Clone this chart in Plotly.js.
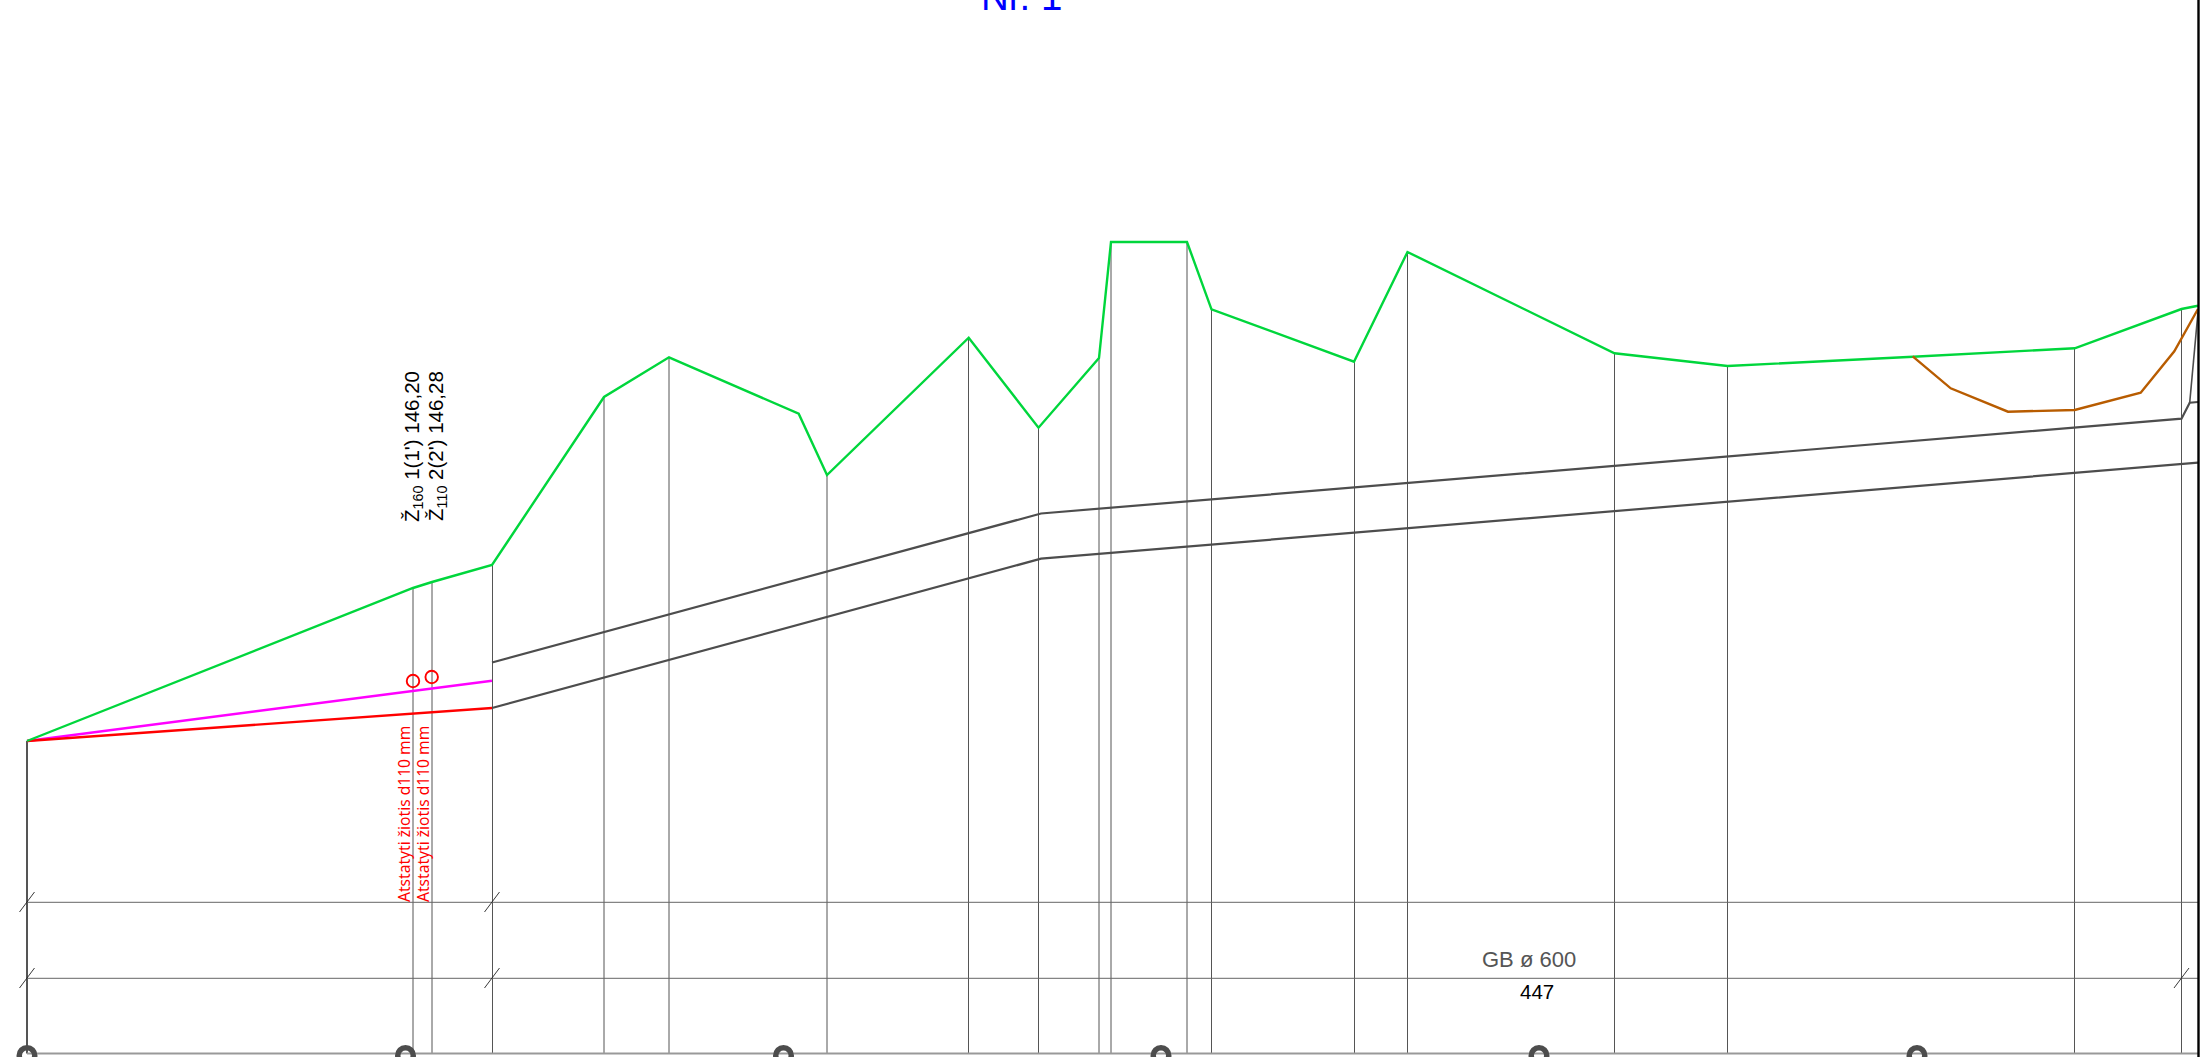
<!DOCTYPE html>
<html><head><meta charset="utf-8">
<script src="https://cdn.plot.ly/plotly-3.0.1.min.js"></script>
<style>html,body{margin:0;padding:0;background:#fff;overflow:hidden}</style>
</head><body><div id="chart" style="width:2208px;height:1057px"></div>
<script>
// Profile values (drawing units)
const groundX=[27,413,432,492,604,669,798.7,827,968.7,1038.5,1099,1111,1187,1211.5,1354,1407.5,1614.5,1727.5,1913,2074.7,2181.5,2198];
const groundY=[741,588,582,565,397,357.3,413.7,475,337.7,427.7,358,242,242,309.3,361.7,252,353.3,366,356.7,348.3,309,305.7];
const pipeUpperX=[492,1041,2181.5,2189.7,2198];
const pipeUpperY=[662.5,513.5,418.7,402.7,402];
const pipeLowerX=[492,1041,2198];
const pipeLowerY=[708,558.7,462.7];
const branchX=[2189.7,2198];
const branchY=[402.7,312];
const magentaX=[27,492];
const magentaY=[741,680.7];
const redX=[27,492];
const redY=[741,708];
const ditchX=[1912.7,1950.7,2008,2074.7,2140.7,2174.3,2198];
const ditchY=[356.3,388.3,411.7,410,392.7,351.3,309];
const stationX=[413,432,492.5,604,669,827,968.5,1038.5,1099,1111,1187,1211.5,1354.5,1407.5,1614.5,1727.5,2074.5,2181.5];
const stationTop=[588,582,565,397,357.3,475,337.7,427.7,358,242,242,309.3,361.7,252,353.3,366,348.3,309];
const leftPostX=[27,27];
const leftPostY=[741,1053.5];
const bandY=[902.3,978.3,1053.5];
const bandColor=['#666','#666','#999'];
const bandWidth=[1,1,2];
const slashX=[27,492,27,492,2181.5];
const slashY=[902,902,978,978,978];
const ringX=[27,405.5,783.5,1161,1539,1917];
const ringY=[1055.5,1055.5,1055.5,1055.5,1055.5,1055.5];
const connX=[413,431.7];
const connY=[681,677];
const frameX=[2198.5,2198.5];
const frameY=[0,1057];

const traces=[];
function line(x,y,color,width){traces.push({type:'scatter',mode:'lines',x,y,line:{color,width},hoverinfo:'skip',showlegend:false,cliponaxis:false});}
const vx=[],vy=[];
stationX.forEach((v,i)=>{vx.push(v,v,null);vy.push(stationTop[i],1053.5,null);});
line(vx,vy,'#555',1);
line(leftPostX,leftPostY,'#555',2);
bandY.forEach((v,i)=>line([27,2198],[v,v],bandColor[i],bandWidth[i]));
const sx=[],sy=[];
slashX.forEach((v,i)=>{sx.push(v-7.5,v+7.5,null);sy.push(slashY[i]+10,slashY[i]-10,null);});
line(sx,sy,'#222',0.9);
line(pipeUpperX,pipeUpperY,'#4d4d4d',2.2);
line(pipeLowerX,pipeLowerY,'#4d4d4d',2.2);
line(branchX,branchY,'#4d4d4d',1.6);
line(magentaX,magentaY,'#ff00ff',2.4);
line(redX,redY,'#ff0000',2.4);
line(groundX,groundY,'#00d63c',2.4);
line(ditchX,ditchY,'#b85c00',2.4);
line(frameX,frameY,'#000',2.4);
traces.push({type:'scatter',mode:'markers',x:connX,y:connY,marker:{symbol:'circle-open',size:12.5,color:'#ff0000',line:{color:'#ff0000',width:1.9}},hoverinfo:'skip',showlegend:false,cliponaxis:false});
traces.push({type:'scatter',mode:'markers',x:ringX,y:ringY,marker:{symbol:'circle-open',size:15.5,color:'#4d4d4d',line:{color:'#4d4d4d',width:5.5}},hoverinfo:'skip',showlegend:false,cliponaxis:false});

const noteText=['Nr. 1','Ž<sub>160</sub> 1(1\') 146,20','Ž<sub>110</sub> 2(2\') 146,28','Atstatyti žiotis d110 mm','Atstatyti žiotis d110 mm','GB ø 600','447'];
const noteX=[1021,412.5,436.5,404,423,1529,1537];
const noteY=[0,446.5,446.5,814,814,959,991];
const noteShift=[4,0,0,0,0,0,0];
const noteSize=[38.5,20.5,20.5,15.6,15.6,22,20.5];
const noteColor=['#0000ff','#000','#000','#ff0000','#ff0000','#555','#000'];
const noteAngle=[0,-90,-90,-90,-90,0,0];
const noteFont=['Liberation Sans','Liberation Sans','Liberation Sans','Noto Sans','Noto Sans','Liberation Sans','Liberation Sans'];
const annotations=noteText.map((t,i)=>({xref:'x',yref:'y',x:noteX[i],y:noteY[i],yshift:noteShift[i],text:t,showarrow:false,xanchor:'center',yanchor:'middle',textangle:noteAngle[i],borderpad:0,font:{family:noteFont[i],size:noteSize[i],color:noteColor[i]}}));

Plotly.newPlot('chart',traces,{
 width:2208,height:1057,margin:{l:0,r:0,t:0,b:0,pad:0},
 paper_bgcolor:'#fff',plot_bgcolor:'#fff',showlegend:false,
 xaxis:{range:[0,2208],visible:false,fixedrange:true},
 yaxis:{range:[1057,0],visible:false,fixedrange:true},
 annotations
},{displayModeBar:false,staticPlot:true});
</script></body></html>
